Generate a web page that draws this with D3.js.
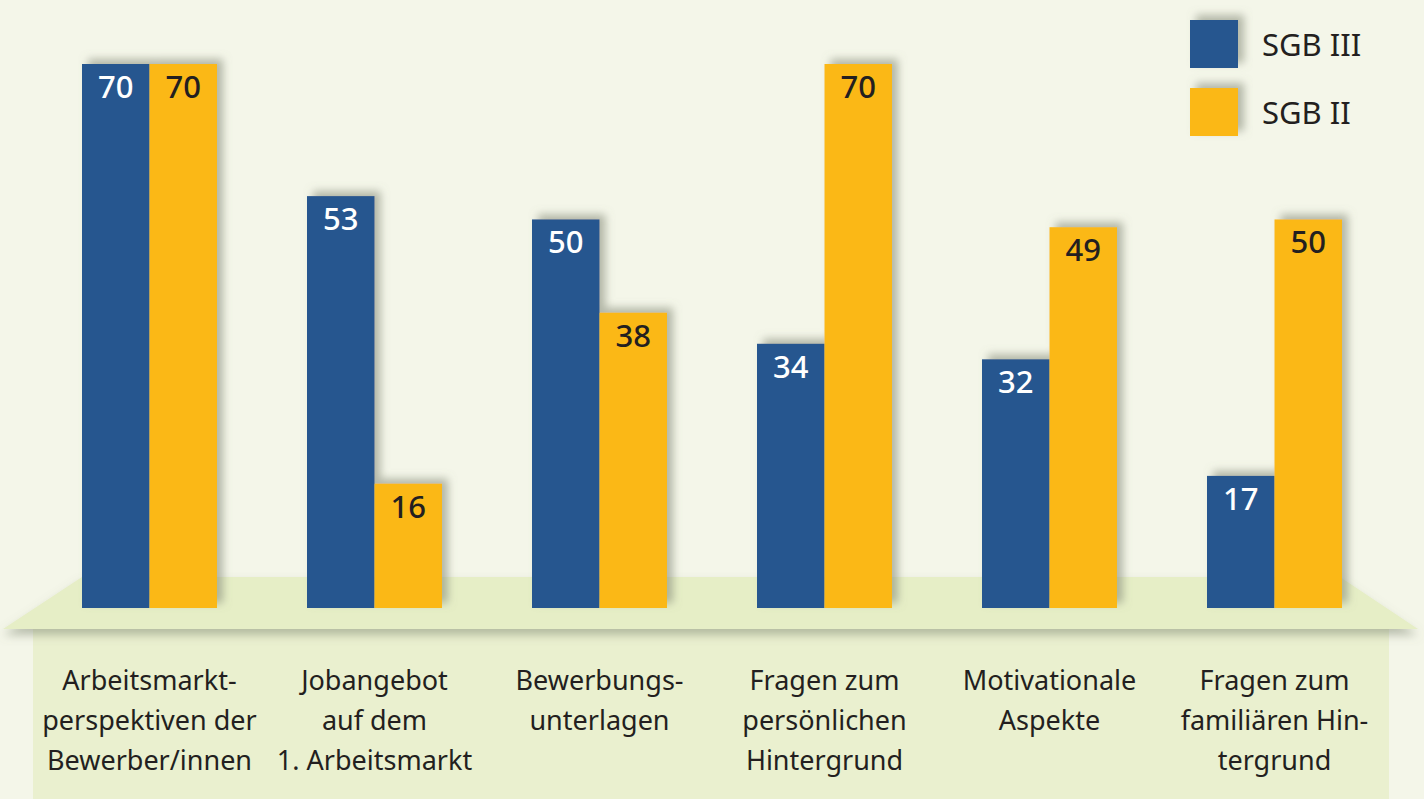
<!DOCTYPE html>
<html>
<head>
<meta charset="utf-8">
<script src="https://cdn.jsdelivr.net/npm/d3@7"></script>
<style>
  body { margin: 0; background: #f4f6e9; }
  svg { display: block; }
  text { font-family: "Noto Sans", "Open Sans", sans-serif; fill: #231f20; }
</style>
</head>
<body>
<div class="canvas"></div>
<script>
// chart data
const categories = [
  ["Arbeitsmarkt-", "perspektiven der", "Bewerber/innen"],
  ["Jobangebot", "auf dem", "1. Arbeitsmarkt"],
  ["Bewerbungs-", "unterlagen"],
  ["Fragen zum", "persönlichen", "Hintergrund"],
  ["Motivationale", "Aspekte"],
  ["Fragen zum", "familiären Hin-", "tergrund"]
];
const seriesNames = ["SGB III", "SGB II"];
const sgb3 = [70, 53, 50, 34, 32, 17];
const sgb2 = [70, 16, 38, 70, 49, 50];
const colors = ["#27568f", "#fbb817"];

const svgWidth = 1424, svgHeight = 799;

const svg = d3.select(".canvas").append("svg")
  .attr("width", svgWidth)
  .attr("height", svgHeight);

// shadows
const defs = svg.append("defs");
defs.append("filter").attr("id", "barShadow")
  .attr("x", "-30%").attr("y", "-30%").attr("width", "160%").attr("height", "160%")
  .append("feDropShadow")
    .attr("dx", 6).attr("dy", -5).attr("stdDeviation", 4)
    .attr("flood-color", "#7d8470").attr("flood-opacity", 0.55);
defs.append("filter").attr("id", "floorShadow")
  .attr("x", "-10%").attr("y", "-30%").attr("width", "120%").attr("height", "180%")
  .append("feDropShadow")
    .attr("dx", 0).attr("dy", 6).attr("stdDeviation", 5)
    .attr("flood-color", "#7d8470").attr("flood-opacity", 0.5);

svg.append("rect").attr("width", svgWidth).attr("height", svgHeight).attr("fill", "#f4f6e9");

// scales
const x = d3.scaleBand()
  .domain(d3.range(categories.length))
  .range([82, 1342])
  .paddingInner(0.4)
  .paddingOuter(0);

const xs = d3.scaleBand()
  .domain([0, 1])
  .range([0, x.bandwidth()]);

const y = d3.scaleLinear()
  .domain([0, 70])
  .range([608, 64]);

const x0 = x.range()[0], x1 = x.range()[1];
const floorTop = 577, floorBottom = 629;

// label panel below the floor
svg.append("rect")
  .attr("x", 33).attr("y", floorBottom)
  .attr("width", 1389 - 33).attr("height", svgHeight - floorBottom)
  .attr("fill", "#eaf0cf");

// floor
svg.append("path")
  .attr("d", d3.line()([[3, floorBottom], [x0, floorTop], [x1 - 2, floorTop], [1418, floorBottom]]) + "Z")
  .attr("fill", "#e6eec6")
  .attr("filter", "url(#floorShadow)");

// bars
const rows = categories.map((c, i) => [sgb3[i], sgb2[i]]);

const groups = svg.selectAll("g.group")
  .data(rows)
  .enter().append("g")
    .attr("class", "group")
    .attr("transform", (d, i) => `translate(${x(i)},0)`);

groups.append("g")
  .attr("filter", "url(#barShadow)")
  .selectAll("rect")
  .data(d => d)
  .enter().append("rect")
    .attr("x", (d, j) => xs(j))
    .attr("y", d => y(d))
    .attr("width", xs.bandwidth())
    .attr("height", d => y(0) - y(d))
    .attr("fill", (d, j) => colors[j]);

groups.selectAll("text.val")
  .data(d => d)
  .enter().append("text")
    .attr("class", "val")
    .attr("x", (d, j) => xs(j) + xs.bandwidth() / 2)
    .attr("y", d => y(d) + 34)
    .attr("text-anchor", "middle")
    .style("font-size", "31px")
    .style("font-weight", 500)
    .style("fill", (d, j) => j === 0 ? "#ffffff" : "#231f20")
    .text(d => d);

// category labels
const labels = svg.selectAll("text.cat")
  .data(categories)
  .enter().append("text")
    .attr("class", "cat")
    .attr("text-anchor", "middle")
    .style("font-size", "27px");

labels.selectAll("tspan")
  .data((d, i) => d.map(line => ({line, i})))
  .enter().append("tspan")
    .attr("x", d => x(d.i) + x.bandwidth() / 2)
    .attr("y", (d, k) => 690 + k * 40)
    .text(d => d.line);

// legend
const legend = svg.selectAll("g.legend")
  .data(seriesNames)
  .enter().append("g")
    .attr("class", "legend")
    .attr("transform", (d, i) => `translate(1190,${20 + i * 68})`);

legend.append("rect")
  .attr("width", 48).attr("height", 48)
  .attr("fill", (d, i) => colors[i])
  .attr("filter", "url(#barShadow)");

legend.append("text")
  .attr("x", 72).attr("y", 36)
  .style("font-size", "31px")
  .text(d => d);
</script>
</body>
</html>
